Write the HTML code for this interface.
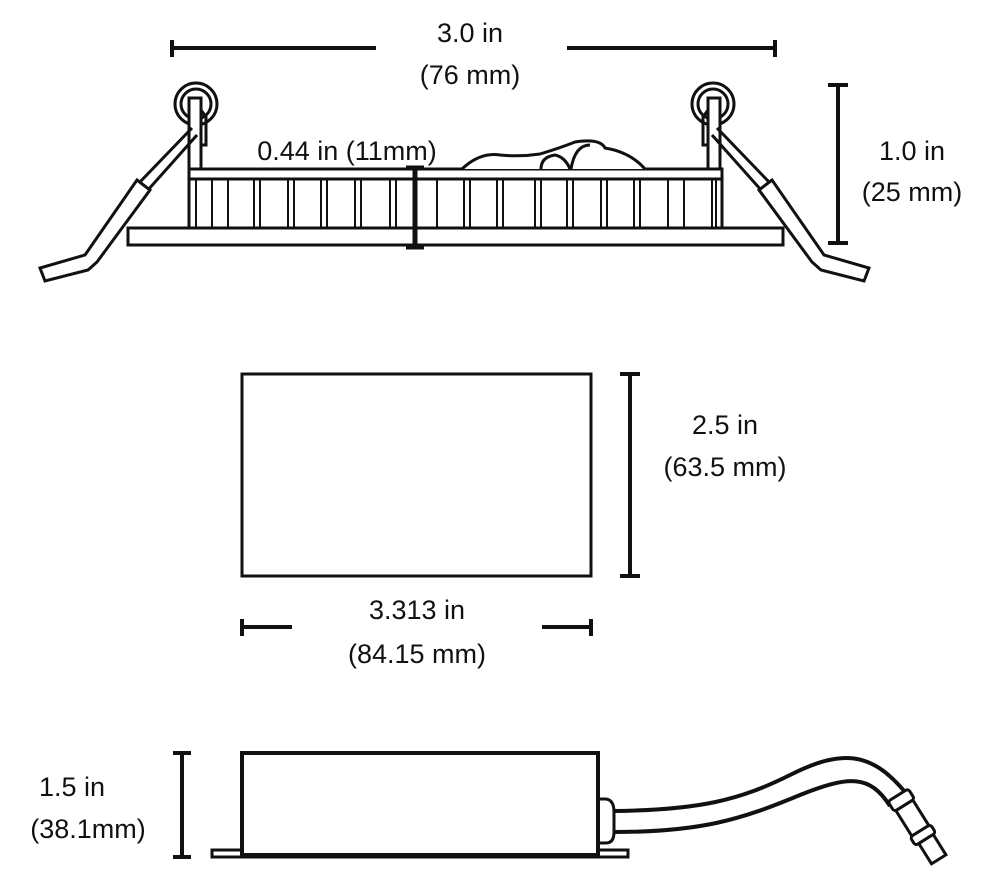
<!DOCTYPE html>
<html><head><meta charset="utf-8"><style>
body{margin:0;background:#fff}
svg{display:block}
text{font-family:"Liberation Sans",sans-serif;font-size:27px;fill:#111;text-anchor:middle}
</style></head><body>
<svg width="990" height="892" viewBox="0 0 990 892" xmlns="http://www.w3.org/2000/svg">
<g stroke="#111" fill="none" stroke-width="3">
<line x1="172" y1="48" x2="376" y2="48" stroke-width="4"/>
<line x1="567" y1="48" x2="775" y2="48" stroke-width="4"/>
<line x1="172" y1="40" x2="172" y2="57" stroke-width="4"/>
<line x1="775" y1="40" x2="775" y2="57" stroke-width="4"/>
<rect x="128" y="228" width="655" height="17" fill="#fff"/>
<rect x="189" y="169" width="533" height="10" fill="#fff"/>
<line x1="189" y1="179" x2="189" y2="228"/>
<line x1="722" y1="179" x2="722" y2="228"/>
<g stroke-width="2">
<line x1="196" y1="180" x2="196" y2="228"/><line x1="212" y1="180" x2="212" y2="228"/>
<line x1="228" y1="180" x2="228" y2="228"/><line x1="254" y1="180" x2="254" y2="228"/>
<line x1="260" y1="180" x2="260" y2="228"/><line x1="288" y1="180" x2="288" y2="228"/>
<line x1="294" y1="180" x2="294" y2="228"/><line x1="321" y1="180" x2="321" y2="228"/>
<line x1="327" y1="180" x2="327" y2="228"/><line x1="355" y1="180" x2="355" y2="228"/>
<line x1="361" y1="180" x2="361" y2="228"/><line x1="390" y1="180" x2="390" y2="228"/>
<line x1="396" y1="180" x2="396" y2="228"/><line x1="437" y1="180" x2="437" y2="228"/>
<line x1="464" y1="180" x2="464" y2="228"/><line x1="470" y1="180" x2="470" y2="228"/>
<line x1="497" y1="180" x2="497" y2="228"/><line x1="503" y1="180" x2="503" y2="228"/>
<line x1="535" y1="180" x2="535" y2="228"/><line x1="541" y1="180" x2="541" y2="228"/>
<line x1="567" y1="180" x2="567" y2="228"/><line x1="573" y1="180" x2="573" y2="228"/>
<line x1="601" y1="180" x2="601" y2="228"/><line x1="607" y1="180" x2="607" y2="228"/>
<line x1="634" y1="180" x2="634" y2="228"/><line x1="640" y1="180" x2="640" y2="228"/>
<line x1="668" y1="180" x2="668" y2="228"/><line x1="684" y1="180" x2="684" y2="228"/>
<line x1="712" y1="180" x2="712" y2="228"/><line x1="716" y1="180" x2="716" y2="228"/>
</g>
<line x1="415" y1="167" x2="415" y2="248" stroke-width="5"/>
<line x1="406" y1="167" x2="424" y2="167" stroke-width="3"/>
<line x1="406" y1="248" x2="424" y2="248" stroke-width="3"/>
<path d="M462 169 Q480 152 500 155 Q520 157 540 154 Q560 148 575 142 Q600 138 605 148 Q630 152 645 169" fill="#fff"/>
<path d="M541 169 Q541 157 555 155 Q565 157 570 169" />
<path d="M571 169 Q575 145 590 145"/>
<g id="clip">
<circle cx="196" cy="104" r="21" fill="#fff"/>
<circle cx="196" cy="104" r="15"/>
<rect x="189" y="98" width="12" height="71" fill="#fff"/>
<path d="M201 110 L206 117 L206 145 L201 145"/>
<path d="M192 128 L140 182 L148 190 L197 135"/>
<path d="M137 180 L150 190 L97 262 L88 270 L45 281 L40 268 L85 255 Z" fill="#fff"/>
</g>
<use href="#clip" transform="translate(909,0) scale(-1,1)"/>
<line x1="838" y1="85" x2="838" y2="243" stroke-width="4"/>
<line x1="828" y1="85" x2="848" y2="85" stroke-width="4"/>
<line x1="828" y1="243" x2="848" y2="243" stroke-width="4"/>
<rect x="242" y="374" width="349" height="202"/>
<line x1="630" y1="374" x2="630" y2="576" stroke-width="4"/>
<line x1="620" y1="374" x2="640" y2="374" stroke-width="4"/>
<line x1="620" y1="576" x2="640" y2="576" stroke-width="4"/>
<line x1="242" y1="627" x2="292" y2="627" stroke-width="4"/>
<line x1="542" y1="627" x2="591" y2="627" stroke-width="4"/>
<line x1="242" y1="619" x2="242" y2="636" stroke-width="4"/>
<line x1="591" y1="619" x2="591" y2="636" stroke-width="4"/>
<rect x="212" y="850" width="416" height="7" fill="#fff" stroke-width="3"/>
<rect x="242" y="753" width="356" height="102" fill="#fff" stroke-width="4"/>
<path d="M599 799 L606 799 Q614 800 614 812 L614 832 Q614 843 606 843 L599 843" stroke-width="3"/>
<path d="M614 811 C700 810 740 800 790 775 C840 750 870 750 905 792" stroke-width="4"/>
<path d="M614 832 C700 832 740 820 800 795 C850 775 870 775 890 806" stroke-width="4"/>
<g transform="translate(901,798) rotate(58)">
<rect x="-4" y="-11" width="12" height="24" rx="3" fill="#fff"/>
<rect x="8" y="-9" width="30" height="20" fill="#fff"/>
<rect x="38" y="-11" width="10" height="24" rx="3" fill="#fff"/>
<rect x="48" y="-8" width="24" height="17" fill="#fff"/>
</g>
<line x1="182" y1="753" x2="182" y2="857" stroke-width="4"/>
<line x1="173" y1="753" x2="191" y2="753" stroke-width="4"/>
<line x1="173" y1="857" x2="191" y2="857" stroke-width="4"/>
</g>
<text x="470" y="42">3.0 in</text>
<text x="470" y="84">(76 mm)</text>
<text x="347" y="160">0.44 in (11mm)</text>
<text x="912" y="160">1.0 in</text>
<text x="912" y="201">(25 mm)</text>
<text x="725" y="434">2.5 in</text>
<text x="725" y="476">(63.5 mm)</text>
<text x="417" y="619">3.313 in</text>
<text x="417" y="663">(84.15 mm)</text>
<text x="72" y="796">1.5 in</text>
<text x="88" y="838">(38.1mm)</text>
</svg>
</body></html>
